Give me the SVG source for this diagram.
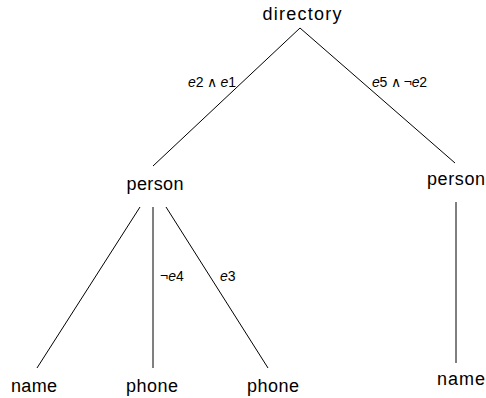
<svg xmlns="http://www.w3.org/2000/svg" width="486" height="398" viewBox="0 0 486 398">
<style>
.n{font-family:"Liberation Sans",Arial,sans-serif;font-size:18px;fill:#000;text-anchor:middle}
.l{font-family:"Liberation Sans",Arial,sans-serif;font-size:14px;fill:#000}
.l tspan.i{font-style:italic}
.e line{stroke:#000;stroke-width:1}
</style>
<rect width="486" height="398" fill="#fff"/>
<g id="connectors" class="e">
<line x1="300" y1="28" x2="153" y2="166"/>
<line x1="300" y1="28" x2="455" y2="163"/>
<line x1="140" y1="207" x2="37" y2="368"/>
<line x1="153" y1="207" x2="153" y2="368"/>
<line x1="166" y1="207" x2="268" y2="368"/>
<line x1="456" y1="202" x2="456" y2="363"/>
</g>
<g id="edge-labels">
<text class="l" x="188" y="87" textLength="48"><tspan class="i">e</tspan>2 ∧ <tspan class="i">e</tspan>1</text>
<text class="l" x="372" y="87" textLength="55"><tspan class="i">e</tspan>5 ∧ ¬<tspan class="i">e</tspan>2</text>
<text class="l" x="160" y="281">¬<tspan class="i">e</tspan>4</text>
<text class="l" x="220" y="281"><tspan class="i">e</tspan>3</text>
</g>
<g id="directory"><text class="n" x="302" y="20" textLength="79">directory</text></g>
<g id="person1"><text class="n" x="155" y="190" textLength="57">person</text></g>
<g id="person2"><text class="n" x="456" y="185" textLength="58">person</text></g>
<g id="name1"><text class="n" x="34" y="392" textLength="46">name</text></g>
<g id="phone1"><text class="n" x="152" y="392" textLength="52">phone</text></g>
<g id="phone2"><text class="n" x="273" y="392" textLength="52">phone</text></g>
<g id="name2"><text class="n" x="461" y="385" textLength="48">name</text></g>
</svg>
